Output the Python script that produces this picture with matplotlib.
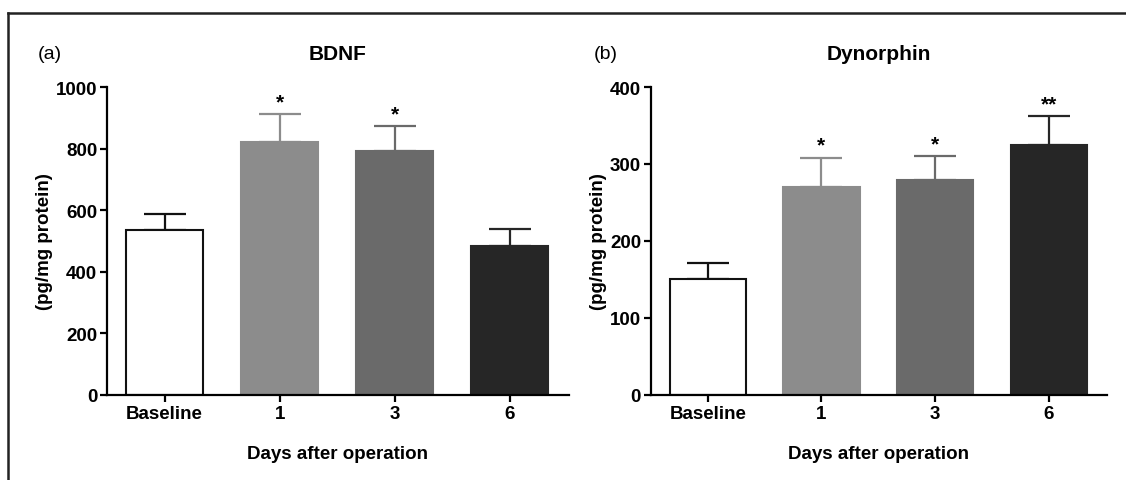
import numpy as np
import matplotlib.pyplot as plt
from matplotlib.lines import Line2D

plt.rcParams['font.family'] = ['Liberation Sans', 'DejaVu Sans']

# data
days = ['Baseline', '1', '3', '6']
bdnf_mean = [535, 823, 793, 483]
bdnf_sem = [53, 88, 79, 56]
bdnf_sig = ['', '*', '*', '']
dyn_mean = [150, 270, 279, 325]
dyn_sem = [21, 38, 31, 37]
dyn_sig = ['', '*', '*', '**']

bar_colors = ['white', '#8c8c8c', '#6a6a6a', '#262626']
edge_colors = ['#111111', '#8c8c8c', '#6a6a6a', '#262626']
err_colors = ['#111111', '#8c8c8c', '#6a6a6a', '#262626']


def draw_panel(ax, means, sems, sigs, ymax, step, title, tag, tag_x):
	x = np.arange(len(days))
	for i in range(len(days)):
		ax.bar(x[i], means[i], width=0.67, color=bar_colors[i],
		       edgecolor=edge_colors[i], linewidth=1.5, zorder=2)
		ax.errorbar(x[i], means[i], yerr=[[0], [sems[i]]], fmt='none',
		            ecolor=err_colors[i], elinewidth=1.6, capsize=15,
		            capthick=1.6, zorder=1)
		if sigs[i]:
			ax.text(x[i], means[i] + sems[i] + ymax * 0.01, sigs[i],
			        ha='center', va='bottom', fontsize=15, fontweight='bold')
	ax.set_xlim(-0.5, 3.51)
	ax.set_ylim(0, ymax)
	ax.set_yticks(np.arange(0, ymax + 1, step))
	ax.set_xticks(x)
	ax.set_xticklabels(days)
	ax.spines['top'].set_visible(False)
	ax.spines['right'].set_visible(False)
	ax.spines['left'].set_linewidth(1.6)
	ax.spines['bottom'].set_linewidth(1.6)
	ax.tick_params(axis='both', width=1.6, length=5, labelsize=13.5, pad=2)
	for lab in ax.get_xticklabels() + ax.get_yticklabels():
		lab.set_fontweight('bold')
	ax.set_ylabel('(pg/mg protein)', fontsize=13.5, fontweight='bold', labelpad=2)
	ax.set_xlabel('Days after operation', fontsize=13.5, fontweight='bold', labelpad=17)
	ax.set_title(title, fontsize=15, fontweight='bold', pad=20)
	ax.text(tag_x, 1.11, tag, transform=ax.transAxes, fontsize=14,
	        ha='left', va='center')


fig = plt.figure(figsize=(11.26, 4.81), dpi=100)
ax1 = fig.add_axes([0.095, 0.177, 0.410, 0.640])
ax2 = fig.add_axes([0.578, 0.177, 0.405, 0.640])

draw_panel(ax1, bdnf_mean, bdnf_sem, bdnf_sig, 1000, 200, 'BDNF', '(a)', -0.15)
draw_panel(ax2, dyn_mean, dyn_sem, dyn_sig, 400, 100, 'Dynorphin', '(b)', -0.125)

# outer frame (top and left edges visible in the crop)
fig.add_artist(Line2D([0.007, 1.0], [0.971, 0.971], color='#222222', lw=1.8))
fig.add_artist(Line2D([0.007, 0.007], [0.0, 0.971], color='#222222', lw=1.8))

fig.savefig('out.png', dpi=100)
